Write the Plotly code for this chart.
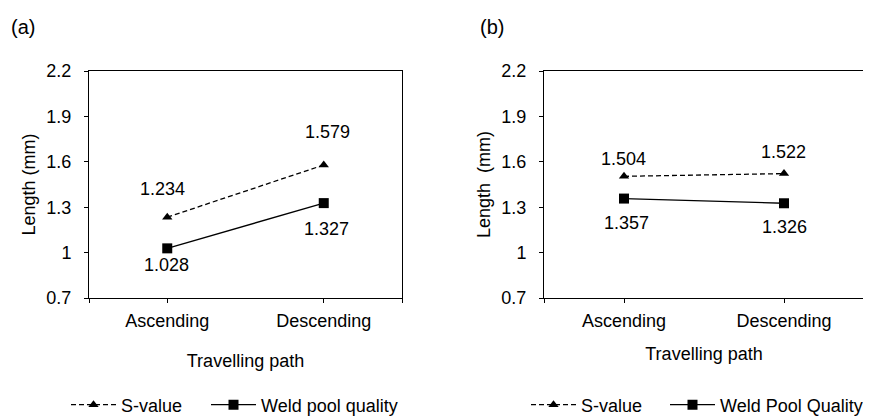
import plotly.graph_objects as go

categories = ["Ascending", "Descending"]
a_svalue = [1.234, 1.579]
a_weld = [1.028, 1.327]
b_svalue = [1.504, 1.522]
b_weld = [1.357, 1.326]
y_ticks = [0.7, 1.0, 1.3, 1.6, 1.9, 2.2]
y_ticktext = ["0.7", "1", "1.3", "1.6", "1.9", "2.2"]

FONT = "Liberation Sans, Arial, sans-serif"
xpos = list(range(len(categories)))

# page body has an 8px margin; figure is sized/positioned to compensate
OFF = 8
W, H = 871 - OFF, 416 - OFF
def px(x):
    return (x - OFF) / W
def py(y):
    return 1 - (y - OFF) / H

fig = go.Figure()

def add_panel(xa, ya, sv, wq, wname, leg_s, leg_w):
    fig.add_trace(go.Scatter(
        x=xpos, y=sv, xaxis=xa, yaxis=ya, mode="lines+markers", name="S-value",
        line=dict(color="black", width=1.3, dash="5px,3px"),
        marker=dict(symbol="triangle-up", size=9, color="black"),
        legend=leg_s))
    fig.add_trace(go.Scatter(
        x=xpos, y=wq, xaxis=xa, yaxis=ya, mode="lines+markers", name=wname,
        line=dict(color="black", width=1.3),
        marker=dict(symbol="square", size=10, color="black"),
        legend=leg_w))

add_panel("x", "y", a_svalue, a_weld, "Weld pool quality", "legend", "legend2")
add_panel("x2", "y2", b_svalue, b_weld, "Weld Pool Quality", "legend3", "legend4")

# data labels
shifts = {
    ("x", "y"): ([(-5, 28), (4, 33)], [(-1, -17), (3, -26)]),
    ("x2", "y2"): ([(-1, 17), (-1, 22)], [(2, -24), (0, -24)]),
}
for (xa, ya), sv, wq in [(("x", "y"), a_svalue, a_weld), (("x2", "y2"), b_svalue, b_weld)]:
    s_sh, w_sh = shifts[(xa, ya)]
    for i in xpos:
        fig.add_annotation(x=xpos[i], y=sv[i], xref=xa, yref=ya, text=f"{sv[i]:.3f}",
                           showarrow=False, xshift=s_sh[i][0], yshift=s_sh[i][1],
                           font=dict(size=18, color="black", family=FONT))
        fig.add_annotation(x=xpos[i], y=wq[i], xref=xa, yref=ya, text=f"{wq[i]:.3f}",
                           showarrow=False, xshift=w_sh[i][0], yshift=w_sh[i][1],
                           font=dict(size=18, color="black", family=FONT))

fig.add_annotation(x=px(23), y=py(27), xref="paper", yref="paper", text="(a)",
                   xanchor="center", yanchor="middle",
                   showarrow=False, font=dict(size=20, color="black", family=FONT))
fig.add_annotation(x=px(492), y=py(27), xref="paper", yref="paper", text="(b)",
                   xanchor="center", yanchor="middle",
                   showarrow=False, font=dict(size=20, color="black", family=FONT))

def xaxis_cfg(dom, anchor, standoff):
    return dict(
        domain=dom, anchor=anchor,
        range=[-0.5, 1.5], tickmode="array", tickvals=[-0.5, 0, 1, 1.5],
        ticktext=["", categories[0], categories[1], ""],
        showline=True, linecolor="black", linewidth=1, mirror=True,
        ticks="outside", ticklen=4, tickcolor="black", showgrid=False, zeroline=False,
        tickfont=dict(size=18, color="black", family=FONT), ticklabelstandoff=2,
        title=dict(text="Travelling path", standoff=standoff,
                   font=dict(size=18, color="black", family=FONT)),
        fixedrange=True, automargin=False,
    )

def yaxis_cfg(anchor, title):
    return dict(
        anchor=anchor,
        range=[0.7, 2.2], tickmode="array", tickvals=y_ticks, ticktext=y_ticktext,
        showline=True, linecolor="black", linewidth=1, mirror=True,
        ticks="outside", ticklen=4, tickcolor="black", showgrid=False, zeroline=False,
        tickfont=dict(size=18, color="black", family=FONT), ticklabelstandoff=9,
        title=dict(text=title, standoff=6, font=dict(size=18, color="black", family=FONT)),
        domain=[py(298), py(71)], automargin=False, fixedrange=True,
    )

def leg(x):
    return dict(orientation="h", x=px(x), y=py(405), xanchor="left", yanchor="middle",
                font=dict(size=18, color="black", family=FONT), itemwidth=45,
                bgcolor="rgba(0,0,0,0)")

fig.update_layout(
    width=W, height=H,
    margin=dict(l=0, r=0, t=0, b=0, autoexpand=False),
    paper_bgcolor="white", plot_bgcolor="white",
    font=dict(family=FONT, size=18, color="black"),
    xaxis=xaxis_cfg([px(89), px(402)], "y", 24),
    yaxis=yaxis_cfg("x", "Length (mm)"),
    xaxis2=xaxis_cfg([px(544), px(864)], "y2", 17),
    yaxis2=yaxis_cfg("x2", "Length  (mm)"),
    legend=leg(66), legend2=leg(206), legend3=leg(526), legend4=leg(665),
    showlegend=True,
)

fig.write_html("out.html")
